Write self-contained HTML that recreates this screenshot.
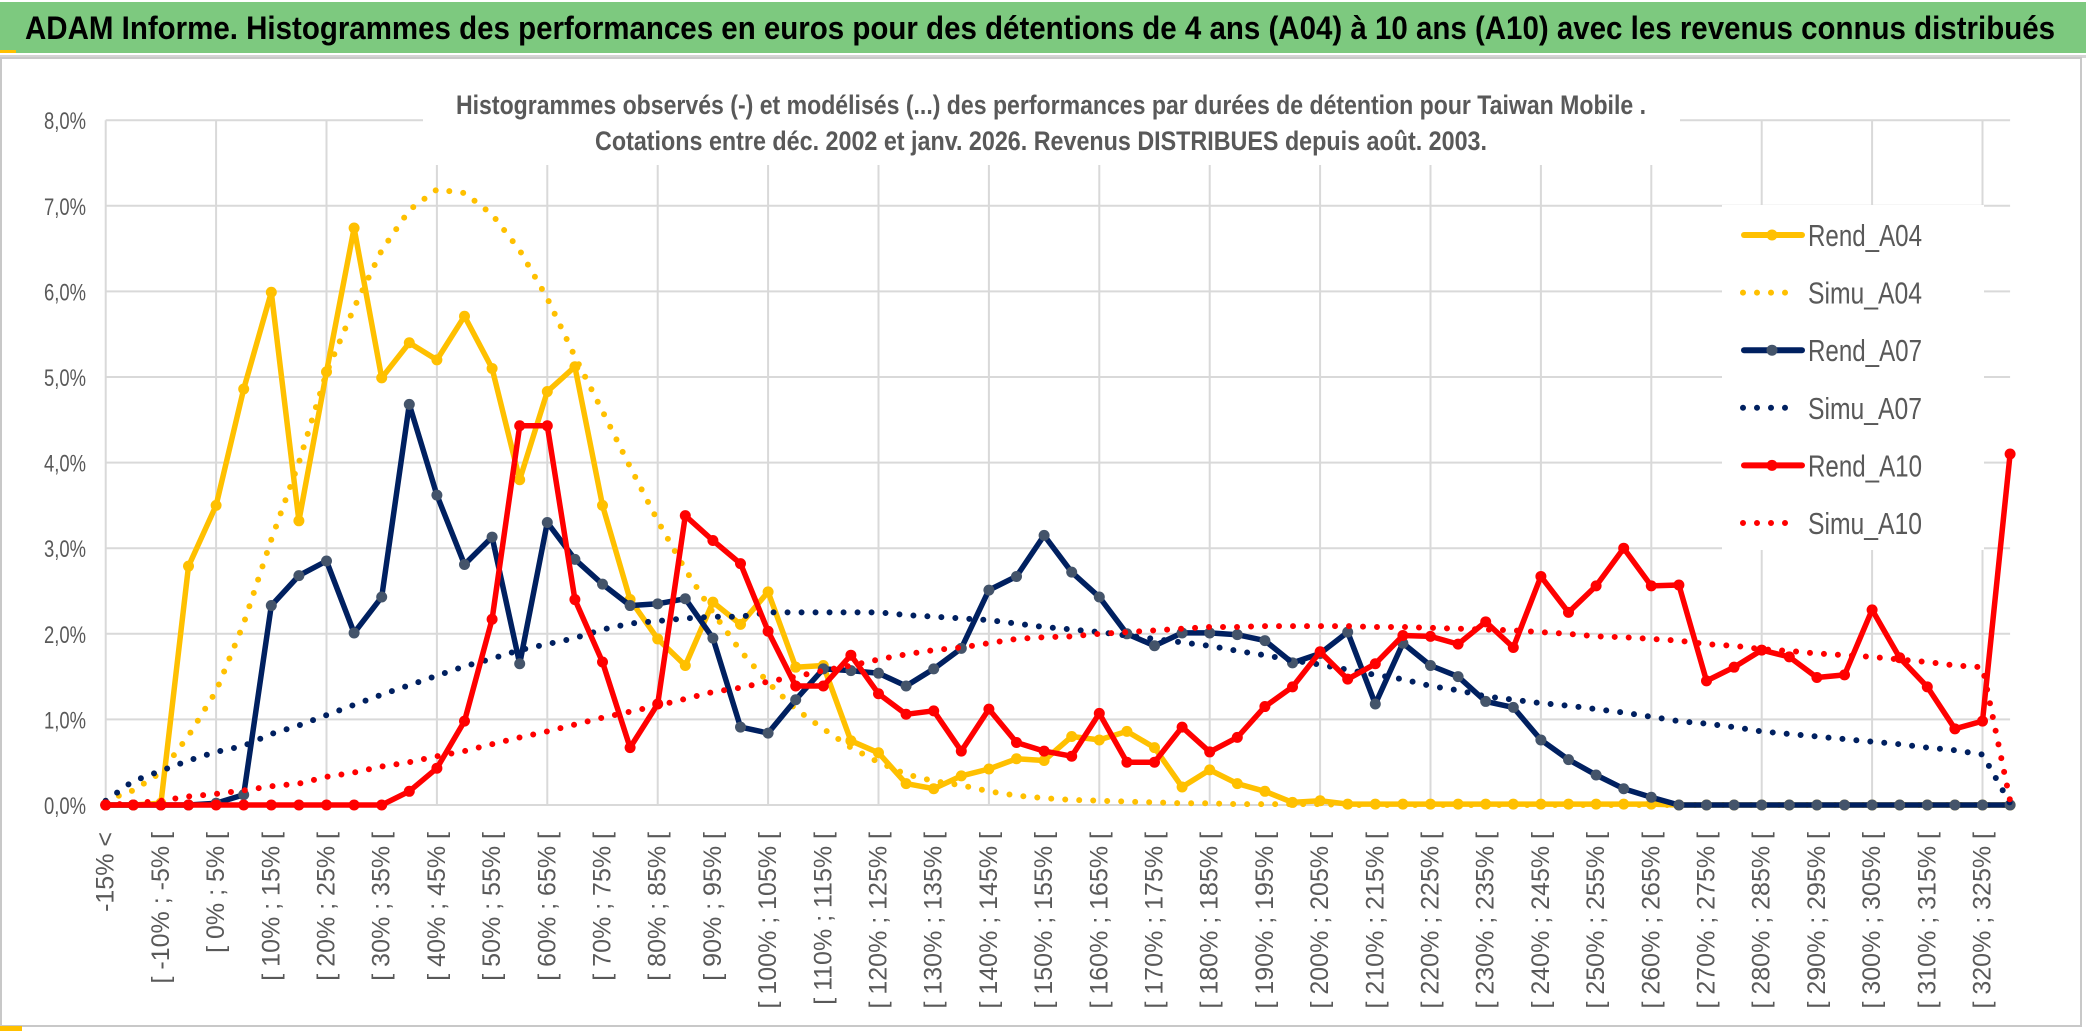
<!DOCTYPE html>
<html><head><meta charset="utf-8"><style>
html,body{margin:0;padding:0;background:#fff;}
svg{display:block;font-family:"Liberation Sans",sans-serif;}
</style></head><body>
<svg id="chart" width="2086" height="1033" viewBox="0 0 2086 1033">
  <rect x="0" y="0" width="2086" height="1033" fill="#fff"/>
  <rect x="0" y="2" width="2086" height="51" fill="#7dc97f"/>
  <rect x="0" y="50" width="16" height="3" fill="#ffc000"/>
  <text x="25" y="39" font-size="32" font-weight="bold" fill="#000" textLength="2030" lengthAdjust="spacingAndGlyphs">ADAM Informe. Histogrammes des performances en euros pour des détentions de 4 ans (A04) à 10 ans (A10) avec les revenus connus distribués</text>
  <rect x="0" y="55" width="2086" height="3" fill="#d4d4d4"/>
  <rect x="1" y="58" width="2080" height="968" fill="none" stroke="#c8c8c8" stroke-width="2"/>
  <rect x="0" y="1026" width="22" height="5" fill="#ffc000"/>
  <g id="grid"></g>
  <rect x="423" y="70" width="1257" height="95" fill="#fff"/>
  <text x="1051" y="114" font-size="27" font-weight="bold" fill="#595959" text-anchor="middle" textLength="1190" lengthAdjust="spacingAndGlyphs">Histogrammes observés (-) et modélisés (...) des performances  par durées de détention pour Taiwan Mobile .</text>
  <text x="1041" y="150" font-size="27" font-weight="bold" fill="#595959" text-anchor="middle" textLength="892" lengthAdjust="spacingAndGlyphs">Cotations entre déc. 2002 et janv. 2026. Revenus DISTRIBUES depuis août. 2003.</text>
  <g id="yaxis"></g>
  <g id="xaxis"></g>
  <rect x="1722" y="205" width="262" height="345" fill="#fff"/>
  <g id="series"></g>
  <g id="legend"></g>
</svg>
<script>
const yTicks = [0,1,2,3,4,5,6,7,8];
const rendA04 = [0,0,0.02,2.79,3.5,4.86,5.99,3.32,5.06,6.74,4.99,5.40,5.20,5.71,5.10,3.80,4.83,5.12,3.50,2.40,1.94,1.63,2.37,2.11,2.49,1.61,1.63,0.75,0.61,0.25,0.19,0.34,0.42,0.54,0.52,0.80,0.76,0.86,0.67,0.21,0.41,0.25,0.16,0.03,0.05,0.01,0.01,0.01,0.01,0.01,0.01,0.01,0.01,0.01,0.01,0.01,0.01,0,0,0,0,0,0,0,0,0,0,0,0,0];
const simuA04 = [0.05,0.17,0.38,0.81,1.33,2.12,3.1,4.0,5.05,5.81,6.48,6.95,7.19,7.15,6.9,6.48,5.92,5.24,4.6,3.95,3.32,2.75,2.25,1.80,1.43,1.12,0.89,0.67,0.50,0.36,0.28,0.23,0.16,0.11,0.08,0.06,0.05,0.04,0.03,0.02,0.02,0.01,0.01,0.01,0.01,0,0,0,0,0,0,0,0,0,0,0,0,0,0,0,0,0,0,0,0,0,0,0,0,0];
const rendA07 = [0,0,0,0,0.02,0.12,2.33,2.68,2.85,2.01,2.43,4.68,3.62,2.81,3.13,1.65,3.30,2.87,2.58,2.33,2.35,2.41,1.95,0.91,0.84,1.23,1.59,1.57,1.54,1.39,1.59,1.83,2.51,2.67,3.15,2.72,2.43,2.0,1.86,2.01,2.01,1.99,1.92,1.66,1.77,2.02,1.18,1.89,1.63,1.50,1.21,1.14,0.76,0.53,0.35,0.19,0.09,0,0,0,0,0,0,0,0,0,0,0,0,0];
const simuA07 = [0.05,0.28,0.40,0.52,0.62,0.69,0.83,0.93,1.05,1.17,1.29,1.40,1.51,1.62,1.71,1.81,1.88,1.95,2.05,2.12,2.15,2.18,2.2,2.2,2.25,2.25,2.25,2.25,2.25,2.22,2.2,2.18,2.16,2.12,2.08,2.05,2.02,1.98,1.94,1.90,1.86,1.80,1.75,1.69,1.64,1.58,1.52,1.47,1.39,1.34,1.27,1.23,1.19,1.16,1.12,1.08,1.03,0.98,0.95,0.91,0.86,0.83,0.80,0.77,0.74,0.71,0.67,0.64,0.59,0.02];
const rendA10 = [0,0,0,0,0,0,0,0,0,0,0,0.16,0.43,0.98,2.17,4.43,4.43,2.40,1.67,0.67,1.18,3.38,3.09,2.82,2.03,1.39,1.39,1.75,1.30,1.06,1.10,0.63,1.12,0.73,0.63,0.57,1.07,0.50,0.50,0.91,0.62,0.79,1.15,1.38,1.79,1.47,1.65,1.98,1.97,1.88,2.14,1.84,2.67,2.25,2.56,3.0,2.56,2.57,1.45,1.61,1.81,1.73,1.49,1.52,2.28,1.72,1.38,0.89,0.98,4.1];
const simuA10 = [0,0.02,0.05,0.10,0.13,0.17,0.22,0.25,0.33,0.38,0.45,0.50,0.57,0.63,0.71,0.79,0.86,0.94,1.02,1.09,1.16,1.24,1.32,1.37,1.44,1.50,1.57,1.63,1.70,1.76,1.81,1.84,1.89,1.94,1.96,1.97,2.0,2.02,2.04,2.06,2.08,2.08,2.09,2.09,2.09,2.09,2.08,2.08,2.07,2.06,2.05,2.04,2.02,2.0,1.97,1.96,1.94,1.92,1.88,1.86,1.82,1.80,1.77,1.75,1.73,1.70,1.67,1.63,1.61,0.05];
const categories = ["-15% <"];
for (let k = 1; k < 70; k++) { const lo = -20 + 5*k; categories.push("[ " + lo + "% ; " + (lo+5) + "% ["); }

const NS = "http://www.w3.org/2000/svg";
const X0 = 105.7, DX = 27.6, Y0 = 805, DY = 85.6;
function xs(i){ return X0 + i*DX; }
function ys(v){ return Y0 - v*DY; }
function mk(tag, attrs, parent){ const e=document.createElementNS(NS,tag); for(const k in attrs) e.setAttribute(k,attrs[k]); parent.appendChild(e); return e; }

const grid = document.getElementById('grid');
const plotRight = xs(categories.length-1);
yTicks.forEach(t=>{
  const l = mk('line',{x1:X0,x2:plotRight,y1:ys(t),y2:ys(t),stroke:'#d9d9d9','stroke-width':2},grid);
  
  
});
for (let i=0;i<categories.length;i+=4){
  const l = mk('line',{x1:xs(i),x2:xs(i),y1:ys(8),y2:ys(0),stroke:'#d9d9d9','stroke-width':2},grid);
  
  
}
const yaxis = document.getElementById('yaxis');
yTicks.forEach(t=>{
  const tx = mk('text',{x:86,y:ys(t)+9,'font-size':24,fill:'#595959','text-anchor':'end',textLength:42,lengthAdjust:'spacingAndGlyphs'},yaxis);
  tx.textContent = t.toFixed(1).replace('.',',')+'%';
  
  
});
const xaxis = document.getElementById('xaxis');
for (let i=0;i<categories.length;i+=2){
  const x = xs(i)+8, y = 832;
  const tx = mk('text',{x:x,y:y,'font-size':25,fill:'#595959','text-anchor':'end',transform:'rotate(-90 '+x+' '+y+')'},xaxis);
  tx.textContent = categories[i];
  
  
}
const seriesG = document.getElementById('series');
function drawLine(vals, color, marker, name){
  const pts = vals.map((v,i)=>xs(i).toFixed(1)+','+ys(v).toFixed(1)).join(' ');
  const pl = mk('polyline',{points:pts,fill:'none',stroke:color,'stroke-width':5.5,'stroke-linejoin':'round','stroke-linecap':'round'},seriesG);
  
  
  vals.forEach((v,i)=>{
    const c = mk('circle',{cx:xs(i),cy:ys(v),r:5.5,fill:marker},seriesG);
    
    
  });
}
function drawDots(vals, color, name){
  const pts = vals.map((v,i)=>xs(i).toFixed(1)+','+ys(v).toFixed(1)).join(' ');
  const pl = mk('polyline',{points:pts,fill:'none',stroke:color,'stroke-width':6,'stroke-linecap':'round','stroke-dasharray':'0 14'},seriesG);
  
  
}
drawLine(rendA04,'#ffc000','#ffc000','rend-a04');
drawDots(simuA04,'#ffc000','simu-a04');
drawLine(rendA07,'#002060','#44546a','rend-a07');
drawDots(simuA07,'#002060','simu-a07');
drawLine(rendA10,'#ff0000','#ff0000','rend-a10');
drawDots(simuA10,'#ff0000','simu-a10');

const legend = document.getElementById('legend');
const legendItems = [["Rend_A04","#ffc000","#ffc000",false],["Simu_A04","#ffc000",null,true],["Rend_A07","#002060","#44546a",false],["Simu_A07","#002060",null,true],["Rend_A10","#ff0000","#ff0000",false],["Simu_A10","#ff0000",null,true]];
legendItems.forEach((it,j)=>{
  const cy = 235 + j*57.6;
  const g = mk('g',{},legend);
  
  
  if (it[3]) {
    mk('line',{x1:1743,x2:1790,y1:cy,y2:cy,stroke:it[1],'stroke-width':6,'stroke-linecap':'round','stroke-dasharray':'0 14'},g);
  } else {
    mk('line',{x1:1744,x2:1802,y1:cy,y2:cy,stroke:it[1],'stroke-width':6,'stroke-linecap':'round'},g);
    mk('circle',{cx:1772,cy:cy,r:5.5,fill:it[2]},g);
  }
  const t = mk('text',{x:1808,y:cy+11,'font-size':31,fill:'#595959',textLength:114,lengthAdjust:'spacingAndGlyphs'},g);
  t.textContent = it[0];
});
</script>
</body></html>
